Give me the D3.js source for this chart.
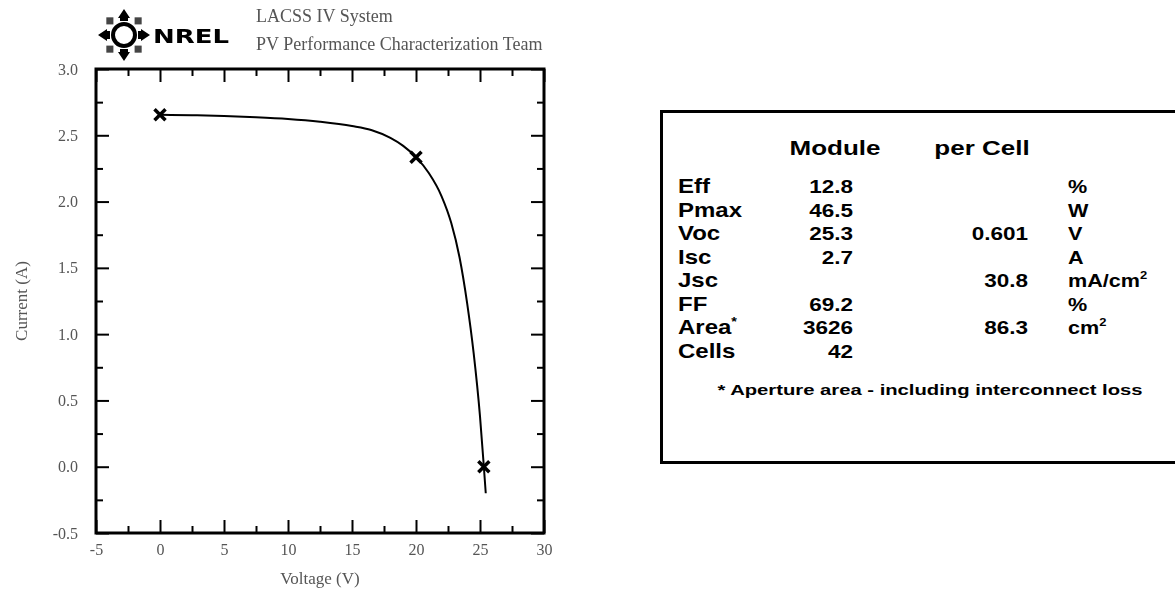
<!DOCTYPE html>
<html>
<head>
<meta charset="utf-8">
<script src="https://cdn.jsdelivr.net/npm/d3@7"></script>
<style>
  html, body { margin: 0; padding: 0; background: #fff; }
  svg { display: block; }
</style>
</head>
<body>
<svg id="chart" width="1175" height="593"></svg>
<script>
// I-V curve of the module (voltage in V, current in A)
const voltage = [0, 2.5, 5, 7.5, 10, 12.5, 15, 16.5, 18, 19, 20, 21, 22, 22.75, 23.4, 24.0, 24.5, 25.0, 25.3, 25.45];
const current = [2.655, 2.651, 2.645, 2.636, 2.623, 2.602, 2.57, 2.54, 2.48, 2.42, 2.335, 2.215, 2.04, 1.84, 1.58, 1.23, 0.86, 0.38, 0.0, -0.2];

// Isc, maximum power point and Voc markers
const markerVoltage = [0, 20.0, 25.3];
const markerCurrent = [2.655, 2.335, 0];

// Axis ticks
const xMajorTicks = [-5, 0, 5, 10, 15, 20, 25, 30];
const xMinorTicks = [-2.5, 2.5, 7.5, 12.5, 17.5, 22.5, 27.5];
const yMajorTicks = [-0.5, 0, 0.5, 1, 1.5, 2, 2.5, 3];
const yMinorTicks = [-0.25, 0.25, 0.75, 1.25, 1.75, 2.25, 2.75];

// Summary table
const rowLabels = ["Eff", "Pmax", "Voc", "Isc", "Jsc", "FF", "Area", "Cells"];
const moduleValues = ["12.8", "46.5", "25.3", "2.7", "", "69.2", "3626", "42"];
const cellValues = ["", "", "0.601", "", "30.8", "", "86.3", ""];
const unitLabels = ["%", "W", "V", "A", "mA/cm|2", "%", "cm|2", ""];
const columnHeaders = ["Module", "per Cell"];
const footnote = "* Aperture area - including interconnect loss";

const svg = d3.select("#chart");

// soft rendering for the scanned-looking plot
const defs = svg.append("defs");
defs.append("filter").attr("id", "soft")
  .append("feGaussianBlur").attr("stdDeviation", 0.45);

// ---------- I-V plot ----------
const x = d3.scaleLinear().domain([-5, 30]).range([96, 544]);
const y = d3.scaleLinear().domain([-0.5, 3]).range([533, 69]);
const serif = "'Liberation Serif', 'Times New Roman', serif";
const labelGrey = "#555";
// plain hyphen for negative numbers
const fmtX = d => d3.format("d")(d).replace("\u2212", "-");
const fmtY = d => d3.format(".1f")(d).replace("\u2212", "-");

const plot = svg.append("g").attr("class", "plot").attr("filter", "url(#soft)");

function styleAxis(g, showText) {
  g.select(".domain").remove();
  g.selectAll(".tick line").attr("stroke", "#000").attr("stroke-width", 2);
  g.selectAll(".tick text")
    .attr("fill", labelGrey)
    .style("font-family", serif)
    .style("font-size", "16px")
    .style("display", showText ? null : "none");
}

// bottom
plot.append("g").attr("transform", `translate(0,${y(-0.5)})`)
  .call(d3.axisBottom(x).tickValues(xMajorTicks).tickSize(-13).tickPadding(11).tickFormat(fmtX))
  .call(g => styleAxis(g, true));
plot.append("g").attr("transform", `translate(0,${y(-0.5)})`)
  .call(d3.axisBottom(x).tickValues(xMinorTicks).tickSize(-7).tickFormat(""))
  .call(g => styleAxis(g, false));
// top
plot.append("g").attr("transform", `translate(0,${y(3)})`)
  .call(d3.axisTop(x).tickValues(xMajorTicks).tickSize(-13).tickFormat(""))
  .call(g => styleAxis(g, false));
plot.append("g").attr("transform", `translate(0,${y(3)})`)
  .call(d3.axisTop(x).tickValues(xMinorTicks).tickSize(-7).tickFormat(""))
  .call(g => styleAxis(g, false));
// left
plot.append("g").attr("transform", `translate(${x(-5)},0)`)
  .call(d3.axisLeft(y).tickValues(yMajorTicks).tickSize(-13).tickPadding(18).tickFormat(fmtY))
  .call(g => styleAxis(g, true));
plot.append("g").attr("transform", `translate(${x(-5)},0)`)
  .call(d3.axisLeft(y).tickValues(yMinorTicks).tickSize(-7).tickFormat(""))
  .call(g => styleAxis(g, false));
// right
plot.append("g").attr("transform", `translate(${x(30)},0)`)
  .call(d3.axisRight(y).tickValues(yMajorTicks).tickSize(-13).tickFormat(""))
  .call(g => styleAxis(g, false));
plot.append("g").attr("transform", `translate(${x(30)},0)`)
  .call(d3.axisRight(y).tickValues(yMinorTicks).tickSize(-7).tickFormat(""))
  .call(g => styleAxis(g, false));

// frame
plot.append("rect")
  .attr("x", x(-5)).attr("y", y(3))
  .attr("width", x(30) - x(-5)).attr("height", y(-0.5) - y(3))
  .attr("fill", "none").attr("stroke", "#000").attr("stroke-width", 3);

// curve
const ivPoints = voltage.map((v, i) => [v, current[i]]);
plot.append("path")
  .datum(ivPoints)
  .attr("fill", "none").attr("stroke", "#000").attr("stroke-width", 2)
  .attr("d", d3.line().x(d => x(d[0])).y(d => y(d[1])).curve(d3.curveMonotoneX));

// markers
const markerSize = 5.5;
plot.selectAll("path.marker")
  .data(markerVoltage.map((v, i) => [v, markerCurrent[i]]))
  .join("path")
  .attr("class", "marker")
  .attr("transform", d => `translate(${x(d[0])},${y(d[1])})`)
  .attr("d", `M${-markerSize},${-markerSize}L${markerSize},${markerSize}M${-markerSize},${markerSize}L${markerSize},${-markerSize}`)
  .attr("stroke", "#000").attr("stroke-width", 3.5).attr("fill", "none");

// axis titles
plot.append("text")
  .attr("x", (x(-5) + x(30)) / 2).attr("y", 584)
  .attr("text-anchor", "middle")
  .attr("fill", labelGrey)
  .style("font-family", serif).style("font-size", "17px")
  .text("Voltage (V)");
plot.append("text")
  .attr("transform", `translate(27,${(y(3) + y(-0.5)) / 2}) rotate(-90)`)
  .attr("text-anchor", "middle")
  .attr("fill", labelGrey)
  .style("font-family", serif).style("font-size", "17px")
  .text("Current (A)");

// ---------- header: NREL mark and titles ----------
const header = svg.append("g").attr("filter", "url(#soft)");
const logo = header.append("g").attr("transform", "translate(124,35)");
logo.append("circle").attr("r", 11).attr("fill", "none").attr("stroke", "#000").attr("stroke-width", 4);
[0, 90, 180, 270].forEach(a => {
  logo.append("path")
    .attr("transform", `rotate(${a})`)
    .attr("d", "M-6,-17L6,-17L0,-26Z M-4,-17L4,-17L4,-14L-4,-14Z")
    .attr("fill", "#000");
});
[45, 135, 225, 315].forEach(a => {
  logo.append("path")
    .attr("transform", `rotate(${a}) translate(0,-20)`)
    .attr("d", "M0,-5L5,0L0,5L-5,0Z")
    .attr("fill", "#444");
});
header.append("text")
  .attr("x", 153).attr("y", 43)
  .attr("textLength", 76).attr("lengthAdjust", "spacingAndGlyphs")
  .style("font-family", "'DejaVu Sans', sans-serif").style("font-weight", "900").style("font-size", "20px")
  .attr("fill", "#000")
  .text("NREL");
header.append("text")
  .attr("x", 256).attr("y", 22)
  .attr("fill", "#555")
  .style("font-family", serif).style("font-size", "18px")
  .text("LACSS IV System");
header.append("text")
  .attr("x", 256).attr("y", 50)
  .attr("fill", "#555")
  .style("font-family", serif).style("font-size", "18px")
  .text("PV Performance Characterization Team");

// ---------- summary table ----------
const table = svg.append("g").attr("class", "table");
const sans = "'Liberation Sans', Arial, sans-serif";

table.append("path")
  .attr("d", "M1180,111.5H661.5V462.5H1180")
  .attr("fill", "none").attr("stroke", "#000").attr("stroke-width", 3);

function cell(xPos, yPos, anchor, content, size, stretch = 1.2) {
  const t = table.append("text")
    .attr("transform", `translate(${xPos},${yPos}) scale(${stretch},1)`)
    .attr("text-anchor", anchor)
    .style("font-family", sans).style("font-weight", "bold").style("font-size", `${size}px`)
    .attr("fill", "#000");
  const parts = content.split("|");
  t.append("tspan").text(parts[0]);
  if (parts.length > 1) {
    t.append("tspan").attr("dy", -8).style("font-size", `${size * 0.6}px`).text(parts[1]);
  }
  return t;
}

const headerY = 155;
cell(835, headerY, "middle", columnHeaders[0], 20, 1.3);
cell(982, headerY, "middle", columnHeaders[1], 20, 1.3);

const rowY = d3.scalePoint().domain(rowLabels).range([193, 358]);
const colLabel = 678, colModule = 853, colCell = 1028, colUnit = 1068;

rowLabels.forEach((lab, i) => {
  const yy = rowY(lab);
  cell(colLabel, yy, "start", lab === "Area" ? "Area|*" : lab, 20);
  if (moduleValues[i]) cell(colModule, yy, "end", moduleValues[i], 18, 1.25);
  if (cellValues[i]) cell(colCell, yy, "end", cellValues[i], 18, 1.25);
  if (unitLabels[i]) cell(colUnit, yy, "start", unitLabels[i], 18, 1.2);
});

cell(930, 395, "middle", footnote, 15, 1.35);
</script>
</body>
</html>
